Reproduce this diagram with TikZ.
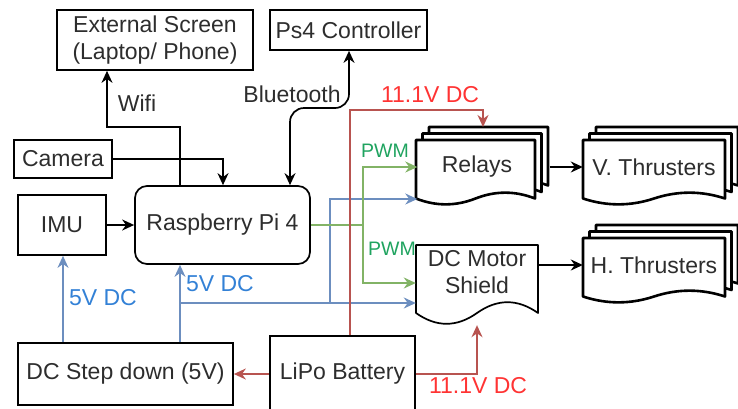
\documentclass[tikz,border=0pt]{standalone}
\usepackage{fontspec}
\setmainfont{Liberation Sans}
\usetikzlibrary{arrows.meta}

\definecolor{txtgray}{RGB}{45,45,45}
\definecolor{bluestroke}{HTML}{6C8EBF}
\definecolor{bluetext}{HTML}{3381D6}
\definecolor{redstroke}{HTML}{B85450}
\definecolor{redtext}{HTML}{FF3333}
\definecolor{greenstroke}{HTML}{82B366}
\definecolor{greentext}{HTML}{1FA35F}

\tikzset{
    box/.style={draw, line width=1.7pt, inner sep=0pt, align=center, text=txtgray},
    doclbl/.style={inner sep=0pt, text=txtgray},
    lbl/.style={inner sep=0pt, text=txtgray},
    arr/.style={line width=1.7pt, -{Stealth[length=12pt,width=11pt]}},
    dblarr/.style={line width=1.7pt, {Stealth[length=12pt,width=11pt]}-{Stealth[length=12pt,width=11pt]}},
    bluearr/.style={line width=1.7pt, bluestroke, -{Stealth[length=12pt,width=11pt]}},
    redarr/.style={line width=1.7pt, redstroke, -{Stealth[length=12pt,width=11pt]}},
    greenline/.style={line width=1.7pt, greenstroke},
    greenarr/.style={greenline, -{Stealth[length=12pt,width=11pt]}},
    bluelbl/.style={inner sep=0pt, text=bluetext},
    redlbl/.style={inner sep=0pt, text=redtext},
    greenlbl/.style={inner sep=0pt, text=greentext, font=\fontsize{19.5}{22}\selectfont}
}

% document outline with wavy bottom: left, top, width, height, wave
\newcommand{\docshape}[6][]{%
    \filldraw[fill=white, line width=1.7pt, line join=round, #1]
        (#2,#3) -- (#2+#4,#3) -- (#2+#4,#3+#5-0.5*#6)
        .. controls (#2+5*#4/6,#3+#5-1.1*#6) and (#2+2*#4/3,#3+#5-1.1*#6) .. (#2+0.5*#4,#3+#5-0.5*#6)
        .. controls (#2+#4/3,#3+#5+0.1*#6) and (#2+#4/6,#3+#5+0.1*#6) .. (#2,#3+#5-0.5*#6) -- cycle;}
% three stacked documents
\newcommand{\docstack}[5]{%
    \docshape[line width=2.6pt]{#1+13}{#2-13}{#3}{#4}{#5}
    \docshape[line width=2.6pt]{#1+6.5}{#2-6.5}{#3}{#4}{#5}
    \docshape[line width=2.6pt]{#1}{#2}{#3}{#4}{#5}}

\begin{document}
\begin{tikzpicture}[x=1pt, y=-1pt, font=\fontsize{23}{27}\selectfont]
    \useasboundingbox (0,0) rectangle (738,408);

    % plain boxes
    \node[box, minimum width=196pt, minimum height=60pt] (screen) at (155,40) {External Screen\\(Laptop/ Phone)};
    \node[box, minimum width=157pt, minimum height=40pt] (ps4) at (348.5,30) {Ps4 Controller};
    \node[box, minimum width=98pt, minimum height=38pt] (camera) at (63,159) {Camera};
    \node[box, minimum width=88pt, minimum height=60pt] (imu) at (62,225) {IMU};
    \node[box, rounded corners=12pt, minimum width=175pt, minimum height=78pt] (pi) at (222.5,225) {Raspberry Pi 4};
    \node[box, minimum width=215pt, minimum height=62pt] (stepdown) at (125.5,374) {DC Step down (5V)};
    \node[box, minimum width=145pt, minimum height=76pt] (lipo) at (342.5,374) {LiPo Battery};

    % document shapes
    \docstack{416}{140}{119}{65}{13}
    \node[doclbl, minimum width=119pt, minimum height=54pt] (relays) at (477,167) {Relays};
    \docstack{583}{140}{142}{65}{13}
    \node[doclbl, minimum width=142pt, minimum height=54pt] (vthr) at (654,167) {V. Thrusters};
    \docstack{583}{238}{142}{65}{13}
    \node[doclbl, minimum width=142pt, minimum height=54pt] (hthr) at (654,265) {H. Thrusters};
    \docshape{416}{245}{122}{80}{24}
    \node[doclbl, minimum width=122pt, minimum height=80pt,
        label={[doclbl, align=center, yshift=13pt]center:DC Motor\\Shield}] (shield) at (477,285) {};

    % data links
    \draw[arr] (pi.north -| 180,0) |- (107,127) -- (screen.south -| 107,0);
    \node[lbl] (wifi) at (137,103) {Wifi};
    \draw[arr] (camera.east) -| (pi.north -| 223,0);
    \draw[dblarr, rounded corners=14pt] (pi.north -| 290,0) |- (349,108) -- (ps4.south -| 349,0);
    \node[lbl] (bt) at (292,94) {Bluetooth};
    \draw[arr] (imu.east) -- (pi.west);
    \draw[arr] ([xshift=13pt]relays.east) -- (vthr.west);
    \draw[arr] (shield.east |- hthr.west) -- (hthr.west);

    % 5V supply
    \coordinate (feedA) at (180,303);
    \coordinate (feedB) at (330,303);
    \draw[bluearr] (stepdown.north -| 63,0) -- (imu.south -| 63,0);
    \draw[bluearr] (stepdown.north -| 180,0) -- (pi.south -| 180,0);
    \draw[bluearr] (feedA) -- (shield.west |- feedA);
    \draw[bluearr] (feedB) |- ([yshift=-32pt]relays.west);
    \node[bluelbl] (fiveA) at (103,298) {5V DC};
    \node[bluelbl] (fiveB) at (220,284) {5V DC};

    % PWM
    \coordinate (pwm) at (363,225);
    \draw[greenline] (pi.east) -- (pwm);
    \draw[greenarr] (pwm) |- (relays.west);
    \draw[greenarr] (pwm) |- ([yshift=2pt]shield.west);
    \node[greenlbl] (pwmA) at (385,151) {PWM};
    \node[greenlbl] (pwmB) at (392,249) {PWM};

    % 11.1V supply
    \coordinate (relaystop) at (483,127);
    \draw[redarr] (lipo.west) -- (stepdown.east);
    \draw[redarr] (lipo.east) -| (shield.south);
    \draw[redarr] (lipo.north -| 350,0) |- (483,110) -- (relaystop);
    \node[redlbl] (elevenA) at (430,95) {11.1V DC};
    \node[redlbl] (elevenB) at (478,386) {11.1V DC};

\end{tikzpicture}
\end{document}
